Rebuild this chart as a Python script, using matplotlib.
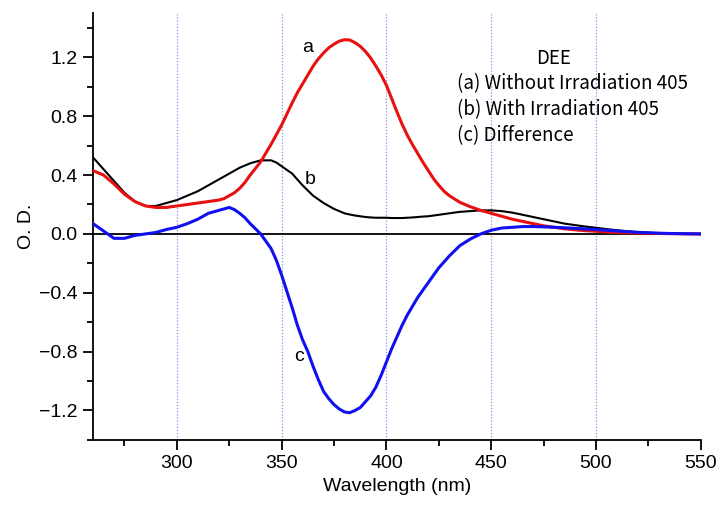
import numpy as np
import matplotlib
matplotlib.use("Agg")
import matplotlib.pyplot as plt
from matplotlib.ticker import MultipleLocator

plt.rcParams['font.family'] = ['Liberation Sans', 'DejaVu Sans']
plt.rcParams['axes.unicode_minus'] = True

wavelength = ([260, 265, 270, 275, 280, 285, 290, 295, 300, 305, 310, 315, 320,
               322.5, 325, 327.5, 330, 332.5, 335, 337.5, 340, 342.5, 345, 347.5,
               350, 352.5, 355, 357.5, 360, 362.5, 365, 367.5, 370, 372.5, 375,
               377.5, 380, 382.5, 385, 387.5, 390, 392.5, 395, 397.5, 400, 402.5,
               405, 407.5, 410, 412.5, 415, 417.5, 420, 422.5, 425, 427.5, 430,
               435, 440, 445, 450, 455, 460, 465, 470, 475, 480, 485, 490, 495,
               500, 505, 510, 515, 520, 525, 530, 535, 540, 545, 550])

od_a = [0.43, 0.40, 0.34, 0.27, 0.22, 0.19, 0.18, 0.18, 0.19, 0.20, 0.21, 0.22, 0.23,
        0.24, 0.26, 0.28, 0.31, 0.35, 0.40, 0.445, 0.49, 0.55, 0.61, 0.675,
        0.74, 0.815, 0.89, 0.96, 1.02, 1.08, 1.14, 1.19, 1.23, 1.265, 1.29,
        1.31, 1.32, 1.318, 1.30, 1.275, 1.24, 1.195, 1.14, 1.08, 1.01, 0.92,
        0.83, 0.745, 0.67, 0.605, 0.545, 0.485, 0.43, 0.375, 0.33, 0.29, 0.26,
        0.215, 0.185, 0.16, 0.14, 0.12, 0.10, 0.085, 0.07, 0.055, 0.045, 0.035, 0.028, 0.022,
        0.018, 0.014, 0.010, 0.008, 0.006, 0.004, 0.003, 0.002, 0.001, 0.0, 0.0]

od_b = [0.52, 0.44, 0.36, 0.28, 0.22, 0.19, 0.19, 0.21, 0.23, 0.26, 0.29, 0.33, 0.37,
        0.39, 0.41, 0.43, 0.45, 0.465, 0.48, 0.49, 0.50, 0.50, 0.50, 0.485,
        0.46, 0.435, 0.41, 0.37, 0.33, 0.295, 0.26, 0.235, 0.21, 0.19, 0.17,
        0.155, 0.14, 0.132, 0.125, 0.12, 0.115, 0.112, 0.11, 0.11, 0.11, 0.108,
        0.108, 0.108, 0.11, 0.112, 0.115, 0.118, 0.12, 0.125, 0.13, 0.135, 0.14,
        0.15, 0.155, 0.16, 0.16, 0.155, 0.145, 0.13, 0.115, 0.10, 0.085, 0.07, 0.06, 0.05,
        0.042, 0.033, 0.025, 0.018, 0.012, 0.008, 0.005, 0.003, 0.002, 0.001, 0.0]

od_c = [0.07, 0.02, -0.03, -0.03, -0.01, 0.0, 0.01, 0.03, 0.045, 0.07, 0.10, 0.14, 0.16,
        0.17, 0.18, 0.165, 0.14, 0.11, 0.07, 0.035, 0.0, -0.05, -0.10, -0.18,
        -0.28, -0.39, -0.50, -0.62, -0.72, -0.80, -0.90, -0.99, -1.07, -1.12, -1.16,
        -1.19, -1.21, -1.215, -1.20, -1.18, -1.14, -1.10, -1.04, -0.96, -0.87, -0.78,
        -0.70, -0.62, -0.55, -0.49, -0.43, -0.38, -0.33, -0.28, -0.23, -0.19, -0.15,
        -0.08, -0.035, 0.0, 0.025, 0.04, 0.045, 0.05, 0.05, 0.048, 0.045, 0.042, 0.038, 0.034,
        0.03, 0.025, 0.02, 0.015, 0.011, 0.008, 0.005, 0.003, 0.002, 0.001, 0.0]

legend_title = "DEE"
legend_lines = ["(a) Without Irradiation 405",
                "(b) With Irradiation 405",
                "(c) Difference"]

fig = plt.figure(figsize=(7.21, 5.08), dpi=100)
ax = fig.add_axes([0.129, 0.134, 0.843, 0.840])

for gx in [300, 350, 400, 450, 500]:
    ax.axvline(gx, color='#8f8fe8', lw=0.9, ls=(0, (1, 1.5)), zorder=0)
ax.axhline(0, color='black', lw=1.3, zorder=1)

ax.plot(wavelength, od_b, color='black', lw=1.5, zorder=3, solid_joinstyle='round')
ax.plot(wavelength, od_a, color='#e81010', lw=2.2, zorder=4, solid_joinstyle='round')
ax.plot(wavelength, od_c, color='#1010f0', lw=2.2, zorder=4, solid_joinstyle='round')

ax.set_xlim(260, 550)
ax.set_ylim(-1.4, 1.5)
ax.xaxis.set_major_locator(MultipleLocator(50))
ax.xaxis.set_minor_locator(MultipleLocator(25))
ax.yaxis.set_major_locator(MultipleLocator(0.4))
ax.yaxis.set_minor_locator(MultipleLocator(0.2))
ax.set_xticks([300, 350, 400, 450, 500, 550])
ax.set_yticks([-1.2, -0.8, -0.4, 0.0, 0.4, 0.8, 1.2])
ax.set_yticklabels(['\u22121.2', '\u22120.8', '\u22120.4', '0.0', '0.4', '0.8', '1.2'])

for s in ['top', 'right']:
    ax.spines[s].set_visible(False)
for s in ['left', 'bottom']:
    ax.spines[s].set_linewidth(1.3)

ax.tick_params(which='major', direction='out', length=7, width=1.3, labelsize=14, pad=4)
ax.tick_params(which='minor', direction='out', length=4, width=1.3)

ax.set_xlabel('Wavelength (nm)', fontsize=14, labelpad=4)
ax.set_ylabel('O. D.', fontsize=14, labelpad=3)

ax.text(362.5, 1.27, 'a', fontsize=14, ha='center', va='center')
ax.text(363.5, 0.37, 'b', fontsize=14, ha='center', va='center')
ax.text(358.2, -0.83, 'c', fontsize=14, ha='center', va='center')

ax.text(0.757, 0.895, legend_title, transform=ax.transAxes, fontsize=13.5,
        ha='center', va='center', family=['Noto Sans CJK JP', 'DejaVu Sans'])
for i, line in enumerate(legend_lines):
    ax.text(0.599, 0.836 - i * 0.061, line, transform=ax.transAxes, fontsize=13.5,
            ha='left', va='center', family=['Noto Sans CJK JP', 'DejaVu Sans'])

fig.savefig('out.png', dpi=100)
